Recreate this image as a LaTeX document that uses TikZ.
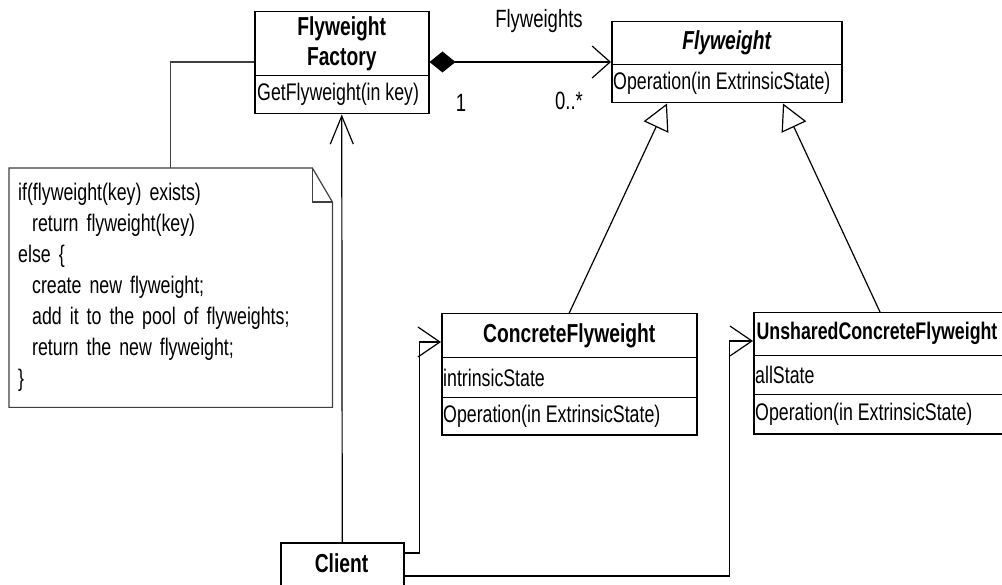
\documentclass[tikz,border=0pt]{standalone}
\usepackage{fontspec}
\setmainfont{Liberation Sans}[FakeStretch=0.74]
\usetikzlibrary{arrows.meta,calc}
\begin{document}
\begin{tikzpicture}[x=1pt,y=-1pt,
  every node/.style={inner sep=0pt},
  lbl/.style={font=\fontsize{25}{30}\selectfont},
  row/.style={draw, line width=1.5pt, anchor=north west},
  rtxt/.style={anchor=west, font=\fontsize{24}{30}\selectfont},
  head/.style={draw, line width=1.5pt, anchor=north west,
    align=center, font=\fontsize{26}{30}\selectfont\bfseries},
  link/.style={line width=1.2pt},
  gen/.style={-{Triangle[open,length=26pt,width=27pt,line width=1.2pt]}},
]
\clip (0,0) rectangle (1002,585);
\fill[white] (0,0) rectangle (1002,585);

% FlyweightFactory
\node[head, minimum width=174pt, minimum height=64pt] (fh) at (254,11) {Flyweight\\Factory};
\node[row, minimum width=174pt, minimum height=38pt] (fo) at (254,75) {};
\node[rtxt] (fot) at ($(fo.west)+(3,0)$) {GetFlyweight(in key)};

% Flyweight (abstract)
\node[head, minimum width=230pt, minimum height=43pt] (wh) at (611,21) {\itshape Flyweight};
\node[row, minimum width=230pt, minimum height=38pt] (wo) at (611,64) {};
\node[rtxt] (wot) at ($(wo.west)+(2,0)$) {Operation(in ExtrinsicState)};

% ConcreteFlyweight
\node[head, minimum width=255pt, minimum height=44pt] (ch) at (441,313) {ConcreteFlyweight};
\node[row, minimum width=255pt, minimum height=40pt] (ca) at (441,357) {};
\node[rtxt] (cat) at ($(ca.west)+(2,0)$) {intrinsicState};
\node[row, minimum width=255pt, minimum height=37pt] (co) at (441,397) {};
\node[rtxt] (cot) at ($(co.west)+(2,0)$) {Operation(in ExtrinsicState)};

% UnsharedConcreteFlyweight (runs on past the right edge)
\node[head, minimum width=262pt, minimum height=43pt] (uh) at (753,312) {};
\node[font=\fontsize{24}{30}\selectfont\bfseries] (uht) at (877,333.5) {UnsharedConcreteFlyweight};
\node[row, minimum width=262pt, minimum height=39pt] (ua) at (753,355) {};
\node[rtxt] (uat) at ($(ua.west)+(2,0)$) {allState};
\node[row, minimum width=262pt, minimum height=39pt] (uo) at (753,394) {};
\node[rtxt] (uot) at ($(uo.west)+(2,0)$) {Operation(in ExtrinsicState)};

% Client
\node[head, minimum width=123pt, minimum height=60pt] (cl) at (280,542) {};
\node[font=\fontsize{26}{30}\selectfont\bfseries] (clt) at (341.5,563) {Client};

% Note with folded corner
\node[anchor=north west, minimum width=317pt, minimum height=239pt,
      text width=305pt, inner xsep=9pt, align=left,
      font=\fontsize{24}{31}\selectfont] (note) at (9,168)
  {if(flyweight(key) exists)\\
   \hspace*{14pt}return flyweight(key)\\
   else \{\\
   \hspace*{14pt}create new flyweight;\\
   \hspace*{14pt}add it to the pool of flyweights;\\
   \hspace*{14pt}return the new flyweight;\\
   \}};
\draw[line width=1.2pt, black!75]
  (note.north west) -- ($(note.north east)+(-20,0)$) -- ($(note.north east)+(0,34)$)
  -- (note.south east) -- (note.south west) -- cycle;
\draw[line width=1.2pt, black!75]
  ($(note.north east)+(-20,0)$) -- ($(note.north east)+(-20,34)$) -- ($(note.north east)+(0,34)$);

% anchor points on the box edges
\coordinate (fkl) at ($(fh.north west)+(0,51)$);
\coordinate (fkr) at ($(fh.north east)+(0,51)$);
\coordinate (wbl) at ($(wo.south west)+(56,0)$);
\coordinate (wbr) at ($(wo.south west)+(172,0)$);
\coordinate (c1) at ($(cl.north east)+(0,11)$);
\coordinate (c2) at ($(cl.north east)+(0,34)$);
\coordinate (cin) at ($(ch.north west)+(0,29)$);
\coordinate (uin) at ($(uh.north west)+(0,29)$);
\coordinate (utop) at ($(uh.north west)+(127,0)$);

% note attachment
\draw[link, black!75] (note.north) |- (fkl);

% aggregation Factory -> Flyweight
\draw[link, {Diamond[length=26pt,width=21pt]}-{Straight Barb[length=18pt,width=32pt,line width=1.2pt]}]
  (fkr) -- (fkr -| wh.west);
\node[lbl] (nflw) at (539,21) {Flyweights};
\node[lbl] (n1) at (461,103) {1};
\node[lbl] (nmany) at (569,101) {0..*};

% generalisations
\draw[link, gen] (ch.north) -- (wbl);
\draw[link, gen] (utop) -- (wbr);

% client associations
\draw[link, -{Straight Barb[length=28pt,width=23pt,line width=1.2pt]}] (cl.north) -- (fo.south);
\draw[link, -{Straight Barb[length=22pt,width=30pt,line width=1.2pt]}]
  (c1) -- ++(15,0) |- (cin);
\draw[link, -{Straight Barb[length=22pt,width=30pt,line width=1.2pt]}]
  (c2) -- ++(325,0) |- (uin);
\end{tikzpicture}
\end{document}
